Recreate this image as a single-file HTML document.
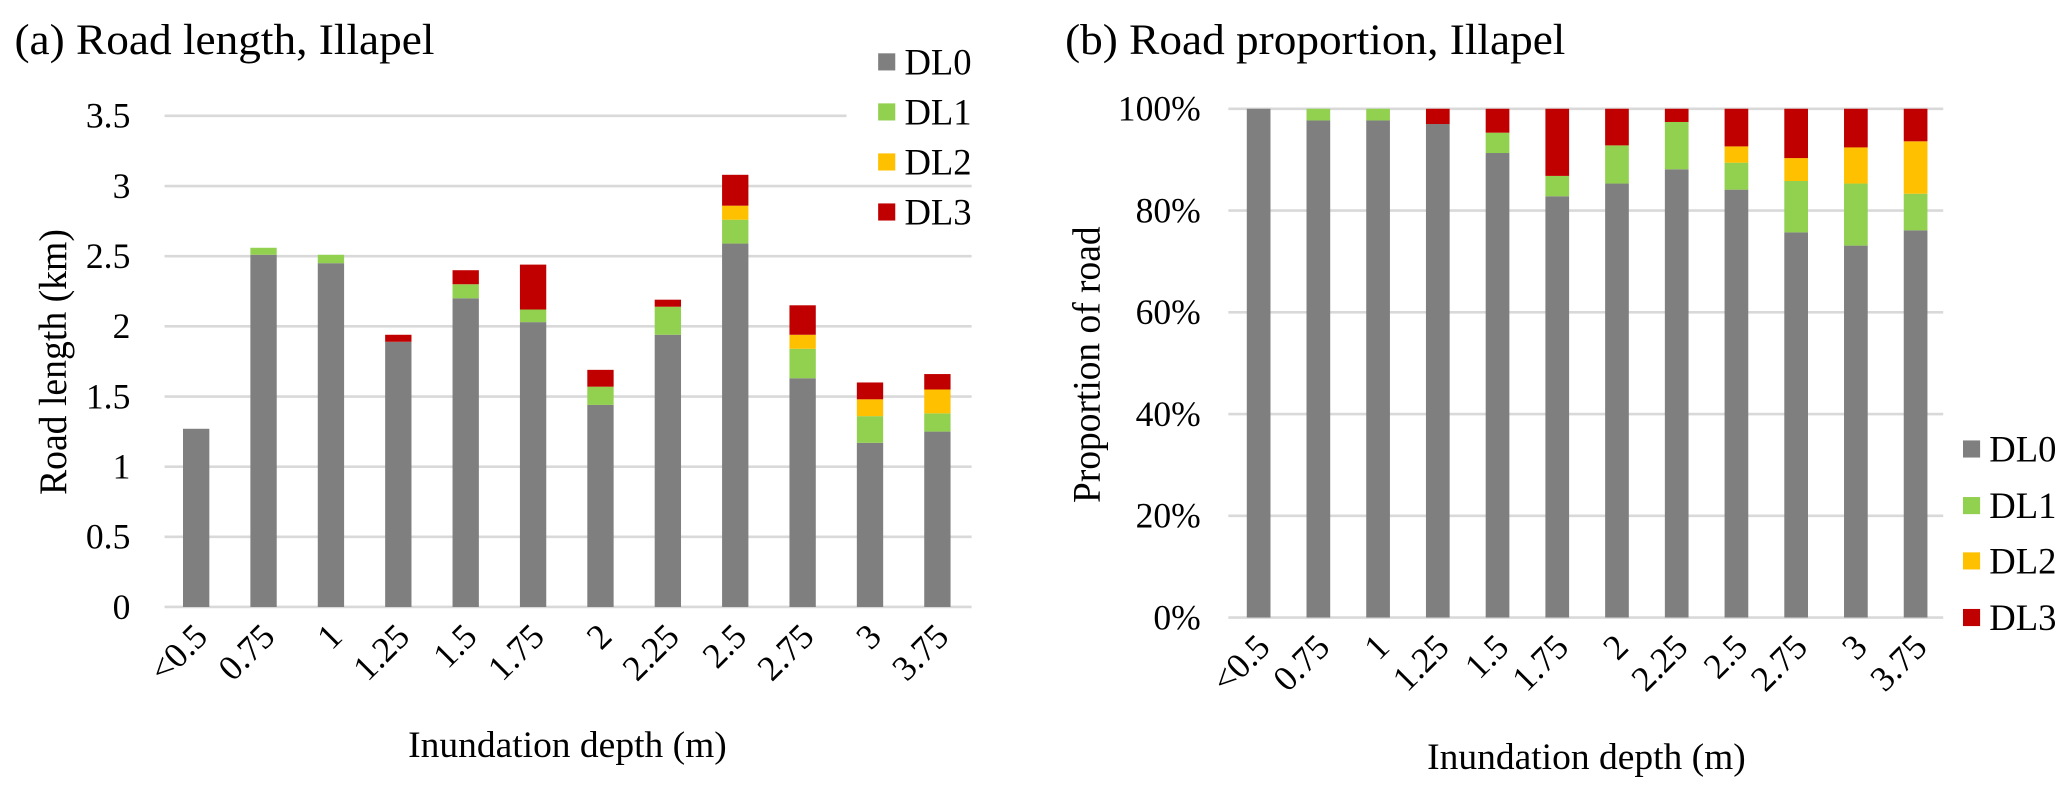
<!DOCTYPE html>
<html><head><meta charset="utf-8"><style>
html,body{margin:0;padding:0;background:#fff;}
svg{display:block;font-family:"Liberation Serif",serif;}
</style></head><body>
<svg id="svg" width="2067" height="790" viewBox="0 0 1570 600" preserveAspectRatio="none" xmlns="http://www.w3.org/2000/svg"></svg>
<script>
const categories = ["<0.5","0.75","1","1.25","1.5","1.75","2","2.25","2.5","2.75","3","3.75"];
const seriesNames = ["DL0","DL1","DL2","DL3"];
const colors = ["#7f7f7f","#92d050","#ffc000","#c00000"];
// Road length (km)
const lenDL0 = [1.27,2.51,2.45,1.89,2.20,2.03,1.44,1.94,2.59,1.63,1.17,1.25];
const lenDL1 = [0,0.05,0.06,0,0.10,0.09,0.13,0.20,0.17,0.21,0.19,0.13];
const lenDL2 = [0,0,0,0,0,0,0,0,0.10,0.10,0.12,0.17];
const lenDL3 = [0,0,0,0.05,0.10,0.32,0.12,0.05,0.22,0.21,0.12,0.11];
const lenTicks = ["0","0.5","1","1.5","2","2.5","3","3.5"];
// Proportion (%)
const pDL0 = [100,97.7,97.7,97.0,91.3,82.8,85.3,88.1,84.1,75.7,73.1,76.1];
const pDL1 = [0,2.3,2.3,0,4.0,4.0,7.5,9.3,5.3,10.1,12.2,7.2];
const pDL2 = [0,0,0,0,0,0,0,0,3.2,4.5,7.1,10.3];
const pDL3 = [0,0,0,3.0,4.7,13.2,7.2,2.6,7.4,9.7,7.6,6.4];
const pTicks = ["0%","20%","40%","60%","80%","100%"];

const svg = document.getElementById('svg');
const NS = "http://www.w3.org/2000/svg";
function mk(tag, attrs, parent){
  const e = document.createElementNS(NS, tag);
  for (const k in attrs) e.setAttribute(k, attrs[k]);
  (parent||svg).appendChild(e);
  return e;
}
function txt(str, attrs, parent){ const t = mk('text', attrs, parent); t.textContent = str; return t; }

function drawChart(cfg){
  const g = mk('g', {});
  
  
  const yScale = v => cfg.y0 - (v - cfg.vmin) / (cfg.vmax - cfg.vmin) * (cfg.y0 - cfg.y1);
  const xScale = i => cfg.xFirst + i * (cfg.xLast - cfg.xFirst) / (categories.length - 1);
  cfg.ticks.forEach((t, i) => {
    const v = cfg.vmin + i * (cfg.vmax - cfg.vmin) / (cfg.ticks.length - 1);
    const y = yScale(v);
    const gl = mk('line', {x1: cfg.gx0, x2: (i === cfg.ticks.length-1 && cfg.topGridEnd) ? cfg.topGridEnd : cfg.gx1, y1: y, y2: y, stroke: '#d9d9d9', 'stroke-width': 2}, g);
    
    
    const tl = txt(t, {x: cfg.tickX, y: y + 9, 'text-anchor': 'end', 'font-size': 27, fill: '#000'}, g);
    
    
  });
  categories.forEach((c, i) => {
    let acc = 0;
    const cx = xScale(i);
    cfg.series.forEach((arr, s) => {
      const v = arr[i];
      if (v > 0) {
        const yTop = yScale(acc + v), yBot = yScale(acc);
        const r = mk('rect', {x: cx - cfg.bw/2, y: yTop, width: cfg.bw, height: yBot - yTop, fill: colors[s]}, g);
        
        
      }
      acc += v;
    });
    const xl = txt(c, {x: 0, y: 0, 'text-anchor': 'end', 'font-size': 27, fill: '#000', transform: `translate(${cx + 10},${cfg.y0 + 24}) rotate(-45)`}, g);
    
    
  });
  const tt = txt(cfg.title, {x: cfg.titleX, y: 41, 'font-size': 33, fill: '#000', textLength: cfg.titleLen, lengthAdjust: 'spacingAndGlyphs'}, g);
  
  
  const yt = txt(cfg.yTitle, {x: 0, y: 0, 'text-anchor': 'middle', 'font-size': 30, fill: '#000', textLength: cfg.yTitleLen, lengthAdjust: 'spacingAndGlyphs', transform: `translate(${cfg.yTitleX},${cfg.yTitleY}) rotate(-90)`}, g);
  
  
  const xt = txt('Inundation depth (m)', {x: cfg.xTitleX, y: cfg.xTitleY, 'text-anchor': 'middle', 'font-size': 28, fill: '#000', textLength: 242, lengthAdjust: 'spacingAndGlyphs'}, g);
  
  
  seriesNames.forEach((n, s) => {
    const ly = cfg.legY[s];
    const sq = mk('rect', {x: cfg.legX, y: ly - 6.5, width: 13, height: 13, fill: colors[s]}, g);
    
    
    const lt = txt(n, {x: cfg.legX + 20, y: ly + 9.5, 'font-size': 28, fill: '#000', textLength: 51, lengthAdjust: 'spacingAndGlyphs'}, g);
    
    
  });
}

drawChart({
  name: 'road-length-chart', title: '(a) Road length, Illapel', titleX: 11, titleLen: 319,
  series: [lenDL0, lenDL1, lenDL2, lenDL3], ticks: lenTicks, vmin: 0, vmax: 3.5,
  y0: 461, y1: 88, gx0: 125, gx1: 738, topGridEnd: 643, tickX: 99,
  xFirst: 149, xLast: 712, bw: 20,
  yTitle: 'Road length (km)', yTitleLen: 202, yTitleX: 50, yTitleY: 275, xTitleX: 431, xTitleY: 575,
  legX: 667, legY: [47, 85, 123, 161]
});
drawChart({
  name: 'road-proportion-chart', title: '(b) Road proportion, Illapel', titleX: 809, titleLen: 380,
  series: [pDL0, pDL1, pDL2, pDL3], ticks: pTicks, vmin: 0, vmax: 100,
  y0: 469, y1: 82.6, gx0: 933, gx1: 1476, topGridEnd: null, tickX: 912,
  xFirst: 956, xLast: 1455, bw: 18,
  yTitle: 'Proportion of road', yTitleLen: 210, yTitleX: 835, yTitleY: 277, xTitleX: 1205, xTitleY: 584,
  legX: 1491, legY: [341, 384, 426, 469]
});
</script>
</body></html>
